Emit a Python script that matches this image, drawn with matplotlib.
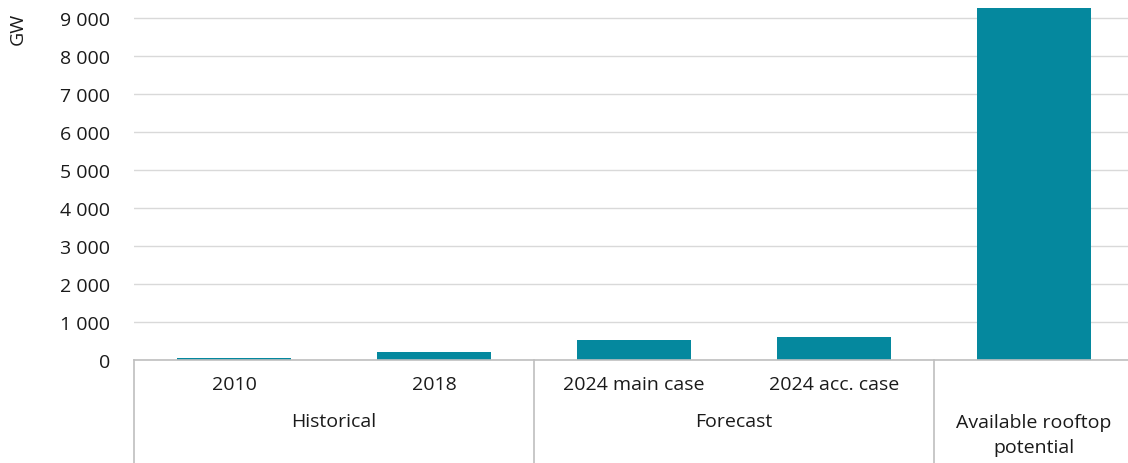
#!/usr/bin/env python3
# -*- coding: utf-8 -*-
"""
Bar chart of rooftop solar PV capacity: history, forecast and potential.
"""

import matplotlib
matplotlib.use('Agg')
import matplotlib.pyplot as PyPlot
from matplotlib.ticker import FuncFormatter
from matplotlib.transforms import blended_transform_factory

# Data
categories = ['2010', '2018', '2024 main case', '2024 acc. case', '']
values = [52, 210, 530, 608, 9280]
groups = ['Historical', 'Forecast', 'Available rooftop\npotential']
groupSpans = [(0, 1), (2, 3), (4, 4)]
yTicks = [0, 1000, 2000, 3000, 4000, 5000, 6000, 7000, 8000, 9000]

barColor = '#05889E'
gridColor = '#D9D9D9'
lineColor = '#BFBFBF'
textColor = '#1A1A1A'
fontSize = 14

PyPlot.rcParams['font.family'] = ['Open Sans', 'DejaVu Sans']
PyPlot.rcParams['font.size'] = fontSize

figure = PyPlot.figure(figsize = (11.28, 4.64), dpi = 100)
W, H = 1128, 464
left, right, top, bottom = 134, 1134, 8, 361
axes = figure.add_axes([left / W, 1 - bottom / H, (right - left) / W,
                        (bottom - top) / H])

x = list(range(len(values)))
axes.bar(x, values, width = 0.57, color = barColor, zorder = 2)
axes.set_xlim(-0.5, len(values) - 0.5)
axes.set_ylim(0, 9300)

# Y axis
axes.set_yticks(yTicks)
axes.yaxis.set_major_formatter(FuncFormatter(
    lambda v, p: '{:,.0f}'.format(v).replace(',', ' ')))
axes.tick_params(axis = 'y', length = 0, pad = 17, colors = textColor,
                 labelsize = fontSize)
axes.grid(axis = 'y', color = gridColor, linewidth = 1, zorder = 0)
axes.set_xticks([])
for side in ['top', 'right', 'left']:
    axes.spines[side].set_visible(False)
axes.spines['bottom'].set_color(lineColor)
axes.spines['bottom'].set_linewidth(1.2)

# Unit label
figure.text(17.5 / W, 1 - 29 / H, 'GW', rotation = 90, ha = 'center',
            va = 'center', color = textColor, fontsize = fontSize)

# Category labels below the axis
trans = blended_transform_factory(axes.transData, axes.transAxes)
def yPix(py):
    # convert pixel row of the figure to axes fraction
    return (bottom - py) / (bottom - top)

for X, label in zip(x, categories):
    if label:
        axes.text(X, yPix(385), label, transform = trans, ha = 'center',
                  va = 'center', color = textColor, clip_on = False)

for (a, b), label in zip(groupSpans, groups):
    yPos = yPix(435.5) if '\n' in label else yPix(422)
    axes.text((a + b) / 2, yPos, label, transform = trans, ha = 'center',
              va = 'center', color = textColor, clip_on = False,
              linespacing = 1.45)

# Vertical separators
for X in [-0.5, 1.5, 3.5, 4.5]:
    axes.plot([X, X], [0, yPix(470)], transform = trans, color = lineColor,
              linewidth = 1.2, clip_on = False)

figure.savefig('out.png', format = 'png')
